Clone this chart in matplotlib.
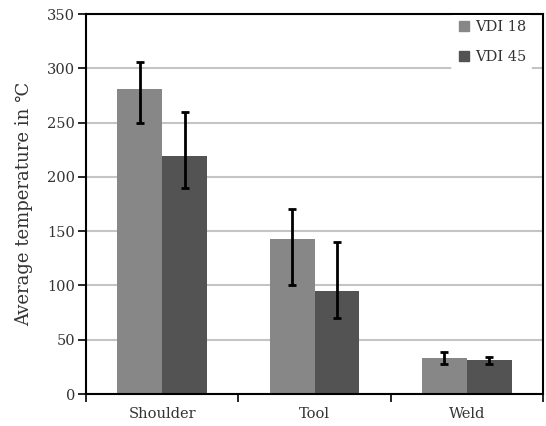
import matplotlib
matplotlib.use("Agg")
import matplotlib.pyplot as plt
import numpy as np
from matplotlib.lines import Line2D

categories = ["Shoulder", "Tool", "Weld"]
series_names = ["VDI 18", "VDI 45"]
vdi18 = [281, 143, 33]
vdi45 = [219, 95, 31]
vdi18_low = [250, 100, 28]
vdi18_high = [306, 170, 39]
vdi45_low = [190, 70, 28]
vdi45_high = [260, 140, 34]
colors = ["#878787", "#535353"]

plt.rcParams['font.family'] = ['DejaVu Serif', 'DejaVu Sans']

fig = plt.figure(figsize=(5.46, 4.26), dpi=100)
ax = fig.add_axes([86/546, 32/426, 457/546, 380/426])

x = np.arange(len(categories))
w = 0.295
vals = [vdi18, vdi45]
lows = [vdi18_low, vdi45_low]
highs = [vdi18_high, vdi45_high]
for i in range(2):
    pos = x + (i - 0.5) * w
    v = np.array(vals[i]); lo = np.array(lows[i]); hi = np.array(highs[i])
    ax.bar(pos, v, width=w, color=colors[i], zorder=2, label=series_names[i])
    ax.errorbar(pos, v, yerr=[v - lo, hi - v], fmt='none', ecolor='black',
                elinewidth=2, capsize=3, capthick=2, zorder=3)

ax.set_xlim(-0.5, 2.5)
ax.set_ylim(0, 350)
ax.set_yticks(np.arange(0, 351, 50))
ax.yaxis.grid(True, color="#c4c4c4", linewidth=1.5, zorder=0)
ax.set_axisbelow(True)
ax.set_xticks([-0.5, 0.5, 1.5, 2.5])
ax.set_xticklabels([])
ax.set_xticks(x, minor=True)
ax.set_xticklabels(categories, minor=True, fontsize=10.5, color="#333333")
ax.tick_params(axis='x', which='minor', length=0, pad=9)
ax.tick_params(axis='x', which='major', length=6, width=1.2, direction='out')
ax.tick_params(axis='y', length=6, width=1.2, direction='out', pad=2,
               labelsize=10.5, labelcolor="#333333")
for s in ax.spines.values():
    s.set_linewidth(1.5)
ax.set_ylabel("Average temperature in ℃", fontsize=13, color="#333333", labelpad=10)

handles = [Line2D([], [], marker='s', linestyle='none', markersize=7, color=c) for c in colors]
leg = ax.legend(handles, series_names, loc='upper right', bbox_to_anchor=(0.985, 1.01),
                frameon=True, fontsize=10.5,
                labelspacing=1.05, handletextpad=0.2, borderaxespad=0.3,
                handlelength=1.0, facecolor='white', edgecolor='none', framealpha=1)
for t in leg.get_texts():
    t.set_color("#333333")

fig.savefig("out.png", dpi=100)
